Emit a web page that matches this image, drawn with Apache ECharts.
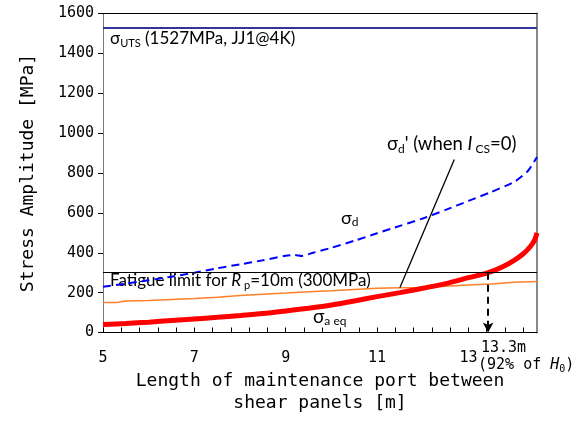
<!DOCTYPE html>
<html>
<head>
<meta charset="utf-8">
<script src="https://cdn.jsdelivr.net/npm/echarts@6/dist/echarts.min.js"></script>
<style>
html, body { margin: 0; padding: 0; background: #fff; }
#main { width: 579px; height: 429px; }
</style>
</head>
<body>
<div id="main"></div>
<script>
// sigma_d (blue dashed)
var sigmaDX = [5, 5.5, 6, 6.5, 7, 7.5, 8, 8.5, 9, 9.2, 9.35, 9.6, 10, 10.5, 11, 11.5, 12, 12.5, 13, 13.5, 14, 14.3, 14.5];
var sigmaDY = [230, 245, 262, 280, 300, 322, 342, 362, 385, 389, 384, 400, 425, 460, 498, 535, 572, 615, 660, 705, 755, 810, 880];
// sigma_d' (when Ics=0) (orange)
var primeX = [5, 5.3, 5.5, 6, 6.5, 7, 7.5, 8, 8.5, 9, 9.5, 10, 10.5, 11, 11.5, 12, 12.5, 13, 13.5, 14, 14.5];
var primeY = [150, 150, 158, 160, 165, 170, 177, 186, 192, 198, 205, 210, 216, 222, 224, 226, 232, 238, 243, 252, 256];
// sigma_a eq (red)
var eqX = [5, 5.5, 6, 6.5, 7, 7.5, 8, 8.5, 9, 9.5, 10, 10.5, 11, 11.5, 12, 12.5, 13, 13.43, 13.75, 14, 14.2, 14.35, 14.45, 14.5];
var eqY = [40, 45, 52, 60, 68, 76, 85, 95, 108, 122, 138, 158, 180, 200, 222, 245, 275, 300, 330, 362, 395, 430, 465, 500];
// reference levels
var utsLevel = 1527;
var fatigueLevel = 300;
var crossX = 13.43;
// axes
var xLabels = [5, 7, 9, 11, 13];
var xTicks = [5, 5.4, 5.8, 6.2, 6.6, 7, 7.4, 7.8, 8.2, 8.6, 9, 9.4, 9.8, 10.2, 10.6, 11, 11.4, 11.8, 12.2, 12.6, 13, 13.4, 13.8, 14.2];
var yTicks = [0, 200, 400, 600, 800, 1000, 1200, 1400, 1600];

function pairs(xs, ys) {
    var out = [];
    for (var i = 0; i < xs.length; i++) {
        out.push([xs[i], ys[i]]);
    }
    return out;
}

var chart = echarts.init(document.getElementById('main'));
var axisFont = 'DejaVu Sans Mono';
var noteFont = 'Lato';

var option = {
    animation: false,
    grid: { left: 103, right: 42, top: 13.5, bottom: 96.5 },
    xAxis: [{
        type: 'value',
        min: 5,
        max: 14.5,
        name: 'Length of maintenance port between\nshear panels [m]',
        nameLocation: 'middle',
        nameGap: 37,
        nameTextStyle: { fontFamily: axisFont, fontSize: 18, color: '#000', lineHeight: 22 },
        axisLine: { onZero: false, lineStyle: { color: '#000', width: 1 } },
        axisTick: { inside: true, length: 5, customValues: xTicks, lineStyle: { color: '#000' } },
        axisLabel: { customValues: xLabels, fontFamily: axisFont, fontSize: 15, color: '#000', margin: 18 },
        splitLine: { show: false }
    }, {
        type: 'value',
        position: 'top',
        min: 5,
        max: 14.5,
        axisLine: { show: true, onZero: false, lineStyle: { color: '#000' } },
        axisTick: { show: false },
        axisLabel: { show: false },
        splitLine: { show: false }
    }],
    yAxis: [{
        type: 'value',
        min: 0,
        max: 1600,
        interval: 200,
        name: 'Stress Amplitude [MPa]',
        nameLocation: 'middle',
        nameGap: 66,
        nameTextStyle: { fontFamily: axisFont, fontSize: 18, color: '#000' },
        axisLine: { show: true, onZero: false, lineStyle: { color: '#777', width: 1 } },
        axisTick: { show: true, length: 5, customValues: yTicks, lineStyle: { color: '#000' } },
        axisLabel: {
            customValues: yTicks, fontFamily: axisFont, fontSize: 15, color: '#000', margin: 9,
            formatter: function (v) { return String(v); }
        },
        splitLine: { show: false }
    }, {
        type: 'value',
        position: 'right',
        min: 0,
        max: 1600,
        axisLine: { show: true, onZero: false, lineStyle: { color: '#888', width: 2 } },
        axisTick: { show: false },
        axisLabel: { show: false },
        splitLine: { show: false }
    }],
    series: [{
        name: 'sigma_d',
        type: 'line',
        data: pairs(sigmaDX, sigmaDY),
        showSymbol: false,
        smooth: 0.2,
        lineStyle: { color: '#0000ff', width: 2, type: [8, 5] },
        z: 3
    }, {
        name: 'sigma_d_prime',
        type: 'line',
        data: pairs(primeX, primeY),
        showSymbol: false,
        lineStyle: { color: '#ff7f2a', width: 1.5 },
        z: 3
    }, {
        name: 'sigma_a_eq',
        type: 'line',
        data: pairs(eqX, eqY),
        showSymbol: false,
        smooth: 0.3,
        lineStyle: { color: '#ff0000', width: 5 },
        z: 4,
        markLine: {
            silent: true,
            symbol: 'none',
            label: { show: false },
            data: [
                [{ coord: [5, utsLevel], lineStyle: { color: '#33339a', width: 2, type: 'solid' } }, { coord: [14.5, utsLevel] }],
                [{ coord: [5, fatigueLevel], lineStyle: { color: '#000', width: 1.2, type: 'solid' } }, { coord: [14.5, fatigueLevel] }],
                [{ coord: [11.5, 226], lineStyle: { color: '#000', width: 1.3, type: 'solid' } }, { coord: [12.69, 868] }],
                [{ coord: [crossX, fatigueLevel], symbol: 'none', lineStyle: { color: '#000', width: 2, type: [7, 5] } },
                 { coord: [crossX, 0], symbol: 'arrow', symbolSize: [8, 10] }]
            ]
        }
    }],
    graphic: [{
        type: 'text', left: 110, top: 30,
        style: {
            text: '{s|σ}{sub|UTS}{s| (1527MPa, JJ1@4K)}',
            rich: {
                s: { fontFamily: noteFont, fontSize: 17, fill: '#000', lineHeight: 20 },
                sub: { fontFamily: noteFont, fontSize: 11, fill: '#000', lineHeight: 10, verticalAlign: 'bottom' }
            }
        }
    }, {
        type: 'text', left: 110, top: 272,
        style: {
            text: '{s|Fatigue limit for }{i|R}{sub| p}{s|=10m (300MPa)}',
            rich: {
                s: { fontFamily: noteFont, fontSize: 17, fill: '#000', lineHeight: 20 },
                i: { fontFamily: noteFont, fontSize: 17, fontStyle: 'italic', fill: '#000', lineHeight: 20 },
                sub: { fontFamily: noteFont, fontSize: 11, fill: '#000', lineHeight: 10, verticalAlign: 'bottom' }
            }
        }
    }, {
        type: 'text', left: 341, top: 209,
        style: {
            text: '{s|σ}{sub|d}',
            rich: {
                s: { fontFamily: noteFont, fontSize: 18, fill: '#000', lineHeight: 21 },
                sub: { fontFamily: noteFont, fontSize: 12, fill: '#000', lineHeight: 10, verticalAlign: 'bottom' }
            }
        }
    }, {
        type: 'text', left: 313, top: 307,
        style: {
            text: '{s|σ}{sub|a eq}',
            rich: {
                s: { fontFamily: noteFont, fontSize: 19, fill: '#000', lineHeight: 21 },
                sub: { fontFamily: noteFont, fontSize: 12, fill: '#000', lineHeight: 10, verticalAlign: 'bottom' }
            }
        }
    }, {
        type: 'text', left: 387, top: 135,
        style: {
            text: '{s|σ}{sub|d}{s|\' (when }{i|I}{sub| CS}{s|=0)}',
            rich: {
                s: { fontFamily: noteFont, fontSize: 18.5, fill: '#000', lineHeight: 21 },
                i: { fontFamily: noteFont, fontSize: 18.5, fontStyle: 'italic', fill: '#000', lineHeight: 21 },
                sub: { fontFamily: noteFont, fontSize: 12, fill: '#000', lineHeight: 10, verticalAlign: 'bottom' }
            }
        }
    }, {
        type: 'text', left: 481, top: 341,
        style: { text: '13.3m', fontFamily: axisFont, fontSize: 15, fill: '#000' }
    }, {
        type: 'text', left: 478, top: 358,
        style: {
            text: '{s|(92% of }{i|H}{sub|0}{s|)}',
            rich: {
                s: { fontFamily: axisFont, fontSize: 15, fill: '#000', lineHeight: 18 },
                i: { fontFamily: axisFont, fontSize: 15, fontStyle: 'italic', fill: '#000', lineHeight: 18 },
                sub: { fontFamily: axisFont, fontSize: 10, fill: '#000', lineHeight: 10, verticalAlign: 'bottom' }
            }
        }
    }]
};

chart.setOption(option);
</script>
</body>
</html>
